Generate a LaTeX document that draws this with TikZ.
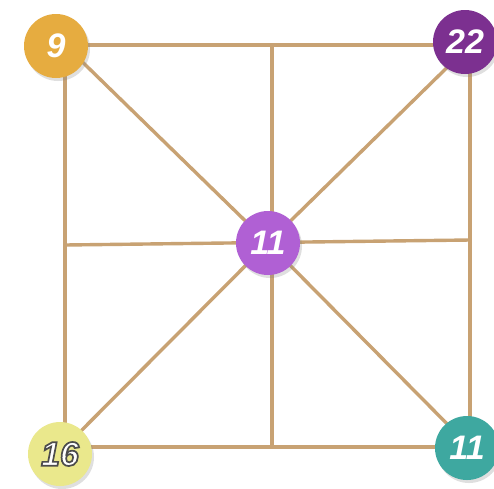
\documentclass[tikz,border=0pt]{standalone}
\usepackage{fontspec}
\setmainfont{Liberation Sans}
\usetikzlibrary{shadows}
\definecolor{linec}{RGB}{200,162,115}
\definecolor{cgold}{RGB}{230,172,64}
\definecolor{cpurple}{RGB}{124,48,144}
\definecolor{clilac}{RGB}{176,96,212}
\definecolor{cyellow}{RGB}{234,232,140}
\definecolor{cteal}{RGB}{62,168,160}
\newcommand{\outlined}[1]{\special{pdf:literal direct 2 Tr 1.7 w 0.3 0.3 0.3 RG}#1\special{pdf:literal direct 0 Tr}}
\tikzset{
  edge/.style={draw=linec, line width=3.4pt},
  ball/.style={circle, minimum size=64pt, inner sep=0pt, text=white,
    font=\fontsize{34}{34}\selectfont\bfseries\itshape,
    drop shadow={shadow xshift=2pt, shadow yshift=-3pt, opacity=0.25}},
}
\begin{document}
\begin{tikzpicture}[x=1pt,y=-1pt]
\useasboundingbox (0,0) rectangle (494,488);
\fill[white] (0,0) rectangle (494,488);
\coordinate (TL) at (65,45);
\coordinate (TR) at (470,45);
\coordinate (BL) at (65,447);
\coordinate (BR) at (470,447);
\coordinate (TM) at (272,45);
\coordinate (BM) at (272,447);
\coordinate (LM) at (65,245);
\coordinate (RM) at (470,240);
\coordinate (C) at (268,243);
\draw[edge] (TL) -- (TR) -- (BR) -- (BL) -- cycle;
\draw[edge] (TM) -- (BM);
\draw[edge] (LM) -- (RM);
\draw[edge] (TL) -- (C) -- (BR);
\draw[edge] (TR) -- (C) -- (BL);
\node[ball, fill=cgold] (n9) at (56,46) {9};
\node[ball, fill=cpurple] (n22) at (465,42) {22};
\node[ball, fill=clilac] (n11c) at (268,243) {11};
\node[ball, fill=cyellow] (n16) at (60,454) {\outlined{16}};
\node[ball, fill=cteal] (n11b) at (467,448) {11};
\end{tikzpicture}
\end{document}
